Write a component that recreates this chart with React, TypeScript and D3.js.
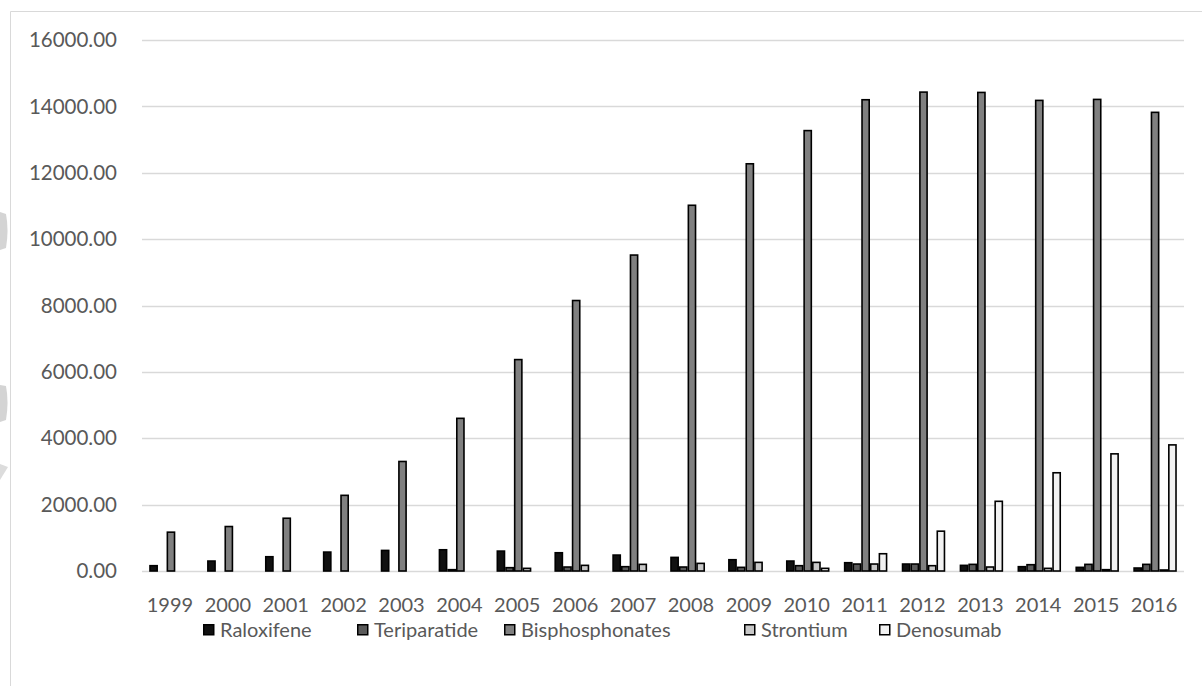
import React from "react";
import * as d3 from "d3";

const years = ["1999","2000","2001","2002","2003","2004","2005","2006","2007","2008","2009","2010","2011","2012","2013","2014","2015","2016"];
const seriesNames = ["Raloxifene","Teriparatide","Bisphosphonates","Strontium","Denosumab"];
const raloxifene = [160,300,430,570,620,640,600,550,480,410,340,300,250,210,170,130,110,90];
const teriparatide = [0,0,0,0,0,40,100,120,130,120,110,160,210,210,200,190,200,200];
const bisphosphonates = [1170,1340,1590,2280,3300,4600,6370,8150,9520,11020,12270,13270,14200,14430,14420,14180,14210,13820];
const strontium = [0,0,0,0,0,0,80,170,200,230,260,260,210,160,120,80,40,30];
const denosumab = [0,0,0,0,0,0,0,0,0,0,0,80,520,1200,2100,2960,3530,3800];
const yTicks = [0,2000,4000,6000,8000,10000,12000,14000,16000];

const seriesValues = [raloxifene, teriparatide, bisphosphonates, strontium, denosumab];
const fills = ["#111111", "#5a5a5a", "#808080", "#c8c8c8", "#f2f2f2"];

const W = 1202, H = 686;
const left = 142, right = 1184, top = 40, bottom = 571;
const font = "Lato, 'Open Sans', sans-serif";
const textColor = "#595959";

export default function App() {
  const x0 = d3.scaleBand<string>().domain(years).range([left, right]).paddingInner(0.25).paddingOuter(0.125);
  const x1 = d3.scaleBand<string>().domain(seriesNames).range([0, x0.bandwidth()]).padding(0);
  const y = d3.scaleLinear().domain([0, 16000]).range([bottom, top]);
  const fmt = d3.format(".2f");

  const legendX = [203, 357, 504, 744, 879];

  return (
    <svg width={W} height={H} style={{ position: "fixed", left: 0, top: 0, background: "#fff" }}>
      <rect x={0} y={0} width={W} height={H} fill="#fff" />
      {/* faint page artifacts at left edge */}
      <path d="M0,212 L6,214 Q9,230 6,248 L0,250 Z" fill="#d4d4d4" />
      <path d="M0,385 L6,386 Q9,402 6,420 L0,422 Z" fill="#d4d4d4" />
      <path d="M0,464 L8,467 L0,480 Z" fill="#dcdcdc" />
      {/* chart frame */}
      <path d={`M10.5,${H + 2} L10.5,11.5 L${W + 2},11.5`} fill="none" stroke="#d9d9d9" strokeWidth={1} />
      {/* gridlines */}
      {yTicks.map((t) => (
        <line key={t} x1={left} x2={right} y1={Math.round(y(t)) + 0.5} y2={Math.round(y(t)) + 0.5} stroke="#d9d9d9" strokeWidth={1.5} />
      ))}
      {/* y tick labels */}
      {yTicks.map((t) => (
        <text key={"l" + t} x={117} y={y(t)} dy="0.35em" textAnchor="end" fontFamily={font} fontSize={20.5} fill={textColor}>
          {fmt(t)}
        </text>
      ))}
      {/* bars */}
      {years.map((yr, i) => (
        <g key={yr} transform={`translate(${x0(yr)},0)`}>
          {seriesNames.map((s, j) => {
            const v = seriesValues[j][i];
            if (v <= 0) return null;
            const yy = y(v);
            return (
              <rect key={s} x={(x1(s) as number) + 0.75} y={yy} width={x1.bandwidth() - 1.5} height={bottom - yy}
                fill={fills[j]} stroke="#000" strokeWidth={1.6} />
            );
          })}
        </g>
      ))}
      {/* x labels */}
      {years.map((yr) => (
        <text key={"x" + yr} x={(x0(yr) as number) + x0.bandwidth() / 2 - 1} y={604.5} dy="0.35em" textAnchor="middle"
          fontFamily={font} fontSize={20} fill={textColor}>
          {yr}
        </text>
      ))}
      {/* legend */}
      {seriesNames.map((s, j) => (
        <g key={"lg" + s}>
          <rect x={legendX[j] + 0.75} y={624.75} width={10} height={10} fill={fills[j]} stroke="#000" strokeWidth={1.5} />
          <text x={legendX[j] + 17} y={630} dy="0.35em" fontFamily={font} fontSize={20} fill={textColor}>{s}</text>
        </g>
      ))}
    </svg>
  );
}
